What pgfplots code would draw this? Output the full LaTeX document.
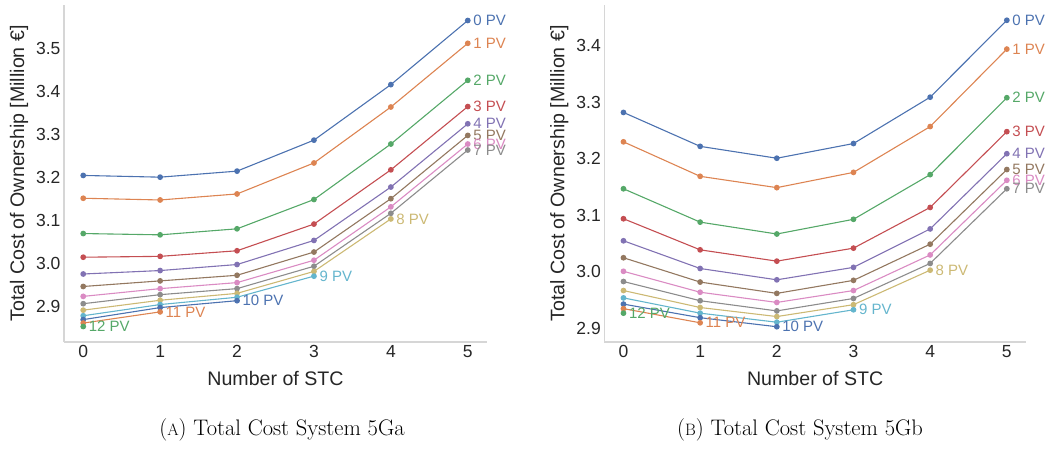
\documentclass[border=0pt]{standalone}
\usepackage{fontspec}
\usepackage{pgfplots}
\pgfplotsset{compat=1.18}
\newfontfamily\arial{Liberation Sans}
\definecolor{c0}{HTML}{4C72B0}
\definecolor{c1}{HTML}{DD8452}
\definecolor{c2}{HTML}{55A868}
\definecolor{c3}{HTML}{C44E52}
\definecolor{c4}{HTML}{8172B3}
\definecolor{c5}{HTML}{937860}
\definecolor{c6}{HTML}{DA8BC3}
\definecolor{c7}{HTML}{8C8C8C}
\definecolor{c8}{HTML}{CCB974}
\definecolor{c9}{HTML}{64B5CD}
\definecolor{spine}{HTML}{D6D6D6}
\definecolor{txt}{HTML}{262626}
\tikzset{
  lab/.style={pos=1, anchor=west, font=\arial\fontsize{15}{15}\selectfont, text=#1, inner sep=5pt},
}
\pgfplotsset{
  myax/.style={
    scale only axis, height=337pt,
    axis lines*=left,
    axis line style={spine, line width=1.3pt},
    major tick length=0pt,
    clip=false,
    xmin=-0.25, xmax=5.25,
    xtick={0,1,2,3,4,5},
    /pgf/number format/assume math mode=true,
    ticklabel style={font=\arial\fontsize{17.5}{17.5}\selectfont, text=txt},
    yticklabel style={/pgf/number format/.cd, fixed, fixed zerofill, precision=1},
    xlabel={Number of STC},
    ylabel={Total Cost of Ownership [Million €]},
    every axis x label/.style={at={(axis description cs:0.5,0)}, yshift=-36pt, anchor=center, font=\arial\fontsize{19.6}{19.6}\selectfont, text=txt},
    every axis y label/.style={at={(axis description cs:0,0.5)}, xshift=-45pt, rotate=90, anchor=center, font=\arial\fontsize{19.6}{19.6}\selectfont, text=txt},
  },
  pv/.style={color=#1, mark=*, mark size=2.3pt, line width=1.1pt, mark options={solid, fill=#1, draw=#1}},
}
\begin{document}
\begin{tikzpicture}
\useasboundingbox (0,0) rectangle (1049pt,448pt);
% ---------------- left ----------------
\begin{axis}[myax, at={(64pt,106pt)}, anchor=south west, width=423pt,
  ymin=2.818, ymax=3.601, ytick={2.9,3.0,3.1,3.2,3.3,3.4,3.5}]
\addplot[pv=c0] coordinates {(0,3.205) (1,3.201) (2,3.215) (3,3.287) (4,3.416) (5,3.565)} node[lab=c0] {0 PV};
\addplot[pv=c1] coordinates {(0,3.152) (1,3.148) (2,3.162) (3,3.234) (4,3.364) (5,3.512)} node[lab=c1] {1 PV};
\addplot[pv=c2] coordinates {(0,3.070) (1,3.067) (2,3.081) (3,3.149) (4,3.278) (5,3.426)} node[lab=c2] {2 PV};
\addplot[pv=c3] coordinates {(0,3.015) (1,3.017) (2,3.030) (3,3.092) (4,3.218) (5,3.365)} node[lab=c3] {3 PV};
\addplot[pv=c4] coordinates {(0,2.976) (1,2.984) (2,2.998) (3,3.054) (4,3.178) (5,3.325)} node[lab=c4] {4 PV};
\addplot[pv=c5] coordinates {(0,2.947) (1,2.960) (2,2.973) (3,3.027) (4,3.151) (5,3.298)} node[lab=c5] {5 PV};
\addplot[pv=c6] coordinates {(0,2.924) (1,2.942) (2,2.956) (3,3.008) (4,3.132) (5,3.278)} node[lab=c6] {6 PV};
\addplot[pv=c7] coordinates {(0,2.907) (1,2.928) (2,2.942) (3,2.994) (4,3.117) (5,3.264)} node[lab=c7] {7 PV};
\addplot[pv=c8] coordinates {(0,2.892) (1,2.915) (2,2.931) (3,2.982) (4,3.104)} node[lab=c8] {8 PV};
\addplot[pv=c9] coordinates {(0,2.879) (1,2.905) (2,2.922) (3,2.971)} node[lab=c9] {9 PV};
\addplot[pv=c0] coordinates {(0,2.870) (1,2.898) (2,2.914)} node[lab=c0] {10 PV};
\addplot[pv=c1] coordinates {(0,2.862) (1,2.888)} node[lab=c1] {11 PV};
\addplot[pv=c2] coordinates {(0,2.854)} node[lab=c2] {12 PV};
\end{axis}
% ---------------- right ----------------
\begin{axis}[myax, at={(604.3pt,106pt)}, anchor=south west, width=421.7pt,
  ymin=2.876, ymax=3.472, ytick={2.9,3.0,3.1,3.2,3.3,3.4}]
\addplot[pv=c0] coordinates {(0,3.282) (1,3.222) (2,3.201) (3,3.227) (4,3.309) (5,3.445)} node[lab=c0] {0 PV};
\addplot[pv=c1] coordinates {(0,3.230) (1,3.169) (2,3.149) (3,3.176) (4,3.257) (5,3.394)} node[lab=c1] {1 PV};
\addplot[pv=c2] coordinates {(0,3.147) (1,3.088) (2,3.067) (3,3.093) (4,3.172) (5,3.308)} node[lab=c2] {2 PV};
\addplot[pv=c3] coordinates {(0,3.094) (1,3.039) (2,3.019) (3,3.042) (4,3.114) (5,3.248)} node[lab=c3] {3 PV};
\addplot[pv=c4] coordinates {(0,3.055) (1,3.006) (2,2.986) (3,3.008) (4,3.076) (5,3.209)} node[lab=c4] {4 PV};
\addplot[pv=c5] coordinates {(0,3.025) (1,2.982) (2,2.962) (3,2.985) (4,3.049) (5,3.181)} node[lab=c5] {5 PV};
\addplot[pv=c6] coordinates {(0,3.001) (1,2.964) (2,2.946) (3,2.967) (4,3.030) (5,3.162)} node[lab=c6] {6 PV};
\addplot[pv=c7] coordinates {(0,2.983) (1,2.949) (2,2.931) (3,2.953) (4,3.015) (5,3.147)} node[lab=c7] {7 PV};
\addplot[pv=c8] coordinates {(0,2.967) (1,2.937) (2,2.921) (3,2.942) (4,3.003)} node[lab=c8] {8 PV};
\addplot[pv=c9] coordinates {(0,2.954) (1,2.927) (2,2.911) (3,2.933)} node[lab=c9] {9 PV};
\addplot[pv=c0] coordinates {(0,2.943) (1,2.919) (2,2.903)} node[lab=c0] {10 PV};
\addplot[pv=c1] coordinates {(0,2.935) (1,2.910)} node[lab=c1] {11 PV};
\addplot[pv=c2] coordinates {(0,2.927)} node[lab=c2] {12 PV};
\end{axis}
% captions
\node[font=\fontsize{22.5}{27}\selectfont, anchor=center] at (282pt,18pt) {({\fontsize{16.5}{20}\selectfont A}) Total Cost System 5Ga};
\node[font=\fontsize{22.5}{27}\selectfont, anchor=center] at (800pt,18pt) {({\fontsize{16.5}{20}\selectfont B}) Total Cost System 5Gb};
\end{tikzpicture}
\end{document}
